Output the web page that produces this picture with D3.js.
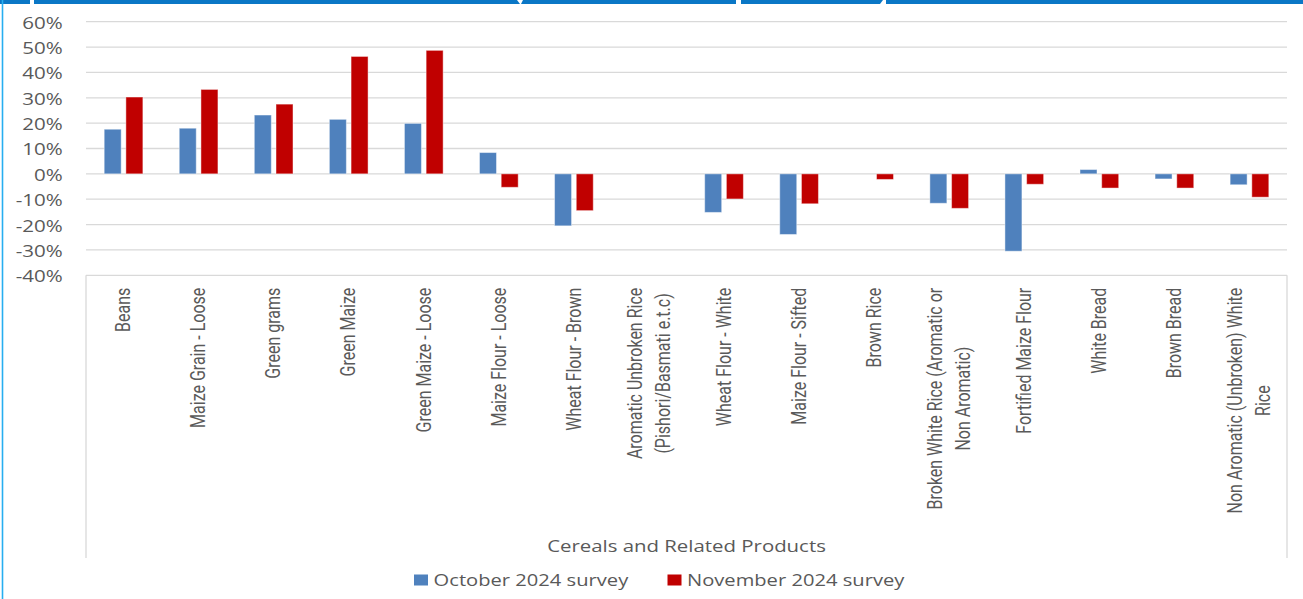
<!DOCTYPE html>
<html>
<head>
<meta charset="utf-8">
<script src="https://cdn.jsdelivr.net/npm/d3@7/dist/d3.min.js"></script>
<style>
  html, body { margin: 0; padding: 0; background: #ffffff; }
  svg { display: block; }
</style>
</head>
<body>
<svg id="chart" width="1303" height="599"></svg>
<script>
// Product categories (line breaks mark wrapped labels)
const categories = [
  "Beans",
  "Maize Grain - Loose",
  "Green grams",
  "Green Maize",
  "Green Maize - Loose",
  "Maize Flour - Loose",
  "Wheat Flour - Brown",
  "Aromatic Unbroken Rice\n(Pishori/Basmati e.t.c)",
  "Wheat Flour - White",
  "Maize Flour - Sifted",
  "Brown Rice",
  "Broken White Rice (Aromatic or\nNon Aromatic)",
  "Fortified Maize Flour",
  "White Bread",
  "Brown Bread",
  "Non Aromatic (Unbroken) White\nRice"
];

const seriesNames = ["October 2024 survey", "November 2024 survey"];

// Percentage change per product, October survey
const october = [17.6, 18.0, 23.2, 21.5, 19.9, 8.4, -20.5, null, -15.2, -23.9, null, -11.6, -30.5, 1.7, -2.0, -4.3];
// Percentage change per product, November survey
const november = [30.3, 33.3, 27.5, 46.3, 48.7, -5.3, -14.5, null, -9.9, -11.8, -2.2, -13.6, -4.1, -5.6, -5.6, -9.2];

const yTicks = [-40, -30, -20, -10, 0, 10, 20, 30, 40, 50, 60];
const axisTitle = "Cereals and Related Products";

const colors = { "October 2024 survey": "#4f81bd", "November 2024 survey": "#c00000" };

const svg = d3.select("#chart");
const textColor = "#595959";
const gridColor = "#d9d9d9";
const stretch = 1.3; // horizontal glyph stretch used for all chart text

const plotLeft = 86, plotRight = 1287, plotTop = 21.7, plotBottom = 275.3;

// ---- panel frame: top rule with tab breaks and the left edge ----
const frame = svg.append("g");
const topSegs = [[0, 30, 0, 0], [34, 517, 0, 3], [523, 736, -2, 0], [741, 883, 0, -3], [886, 1303, 0, 0]];
topSegs.forEach(([a, b, sa, sb]) => {
  frame.append("polygon")
    .attr("points", `${a},0 ${b},0 ${b + sb},4 ${a + sa},4`)
    .attr("fill", "#0a77c6");
});
frame.append("line")
  .attr("x1", 2.5).attr("x2", 2.5).attr("y1", 0).attr("y2", 599)
  .attr("stroke", "#27aef0").attr("stroke-width", 1.6);

// ---- scales ----
const x0 = d3.scaleBand().domain(categories).range([plotLeft, plotRight]).paddingInner(0).paddingOuter(0);
const x1 = d3.scaleBand().domain(seriesNames).range([-19.35, 19.35]).paddingInner(0.2166).paddingOuter(0);
const y = d3.scaleLinear().domain([-40, 60]).range([plotBottom, plotTop]);

// ---- gridlines ----
const grid = svg.append("g");
grid.selectAll("line.grid").data(yTicks).join("line")
  .attr("class", "grid")
  .attr("x1", plotLeft).attr("x2", plotRight)
  .attr("y1", d => y(d)).attr("y2", d => y(d))
  .attr("stroke", gridColor).attr("stroke-width", 1.3);

// category label box edges
[plotLeft, plotRight].forEach(xv => {
  grid.append("line")
    .attr("x1", xv).attr("x2", xv).attr("y1", plotBottom).attr("y2", 558)
    .attr("stroke", gridColor).attr("stroke-width", 1.3);
});

// ---- y axis tick labels ----
const yAxis = d3.axisLeft(y).tickValues(yTicks).tickFormat(d => d + "%").tickSize(0);
const yg = svg.append("g").attr("transform", "translate(62.7,0)").call(yAxis);
yg.select(".domain").remove();
yg.selectAll(".tick text")
  .attr("x", 0).attr("dy", null)
  .attr("dominant-baseline", "central")
  .attr("text-anchor", "end")
  .attr("transform", `scale(${stretch},1)`)
  .attr("fill", textColor)
  .style("font-family", "'Open Sans', sans-serif")
  .style("font-size", "15.8px");

// ---- bars ----
const rows = categories.map((c, i) => ({ cat: c, values: [
  { key: seriesNames[0], value: october[i] },
  { key: seriesNames[1], value: november[i] }
]}));

const groups = svg.append("g").selectAll("g.cat").data(rows).join("g")
  .attr("class", "cat")
  .attr("transform", d => `translate(${x0(d.cat) + x0.bandwidth() / 2},0)`);

groups.selectAll("rect").data(d => d.values.filter(v => v.value !== null)).join("rect")
  .attr("x", d => x1(d.key))
  .attr("width", x1.bandwidth())
  .attr("y", d => y(Math.max(0, d.value)))
  .attr("height", d => Math.abs(y(d.value) - y(0)))
  .attr("fill", d => colors[d.key])
  .attr("stroke", "#ffffff").attr("stroke-opacity", 0.45).attr("stroke-width", 1);

// ---- category labels (rotated, wrapped lines centred on each other) ----
const labelTop = 287.7;
const lineStep = 21.3;
const labels = svg.append("g");
categories.forEach(c => {
  const lines = c.split("\n");
  const g = labels.append("g");
  const t = g.append("text")
    .attr("text-anchor", "middle")
    .attr("fill", "#5a5a5a")
    .style("font-family", "Roboto, sans-serif")
    .style("font-size", "16px");
  lines.forEach((ln, i) => {
    t.append("tspan")
      .attr("x", 0)
      .attr("y", (i - (lines.length - 1) / 2) * lineStep)
      .attr("dominant-baseline", "central")
      .text(ln);
  });
  let maxLen = 0;
  t.selectAll("tspan").each(function () { maxLen = Math.max(maxLen, this.getComputedTextLength()); });
  const cx = x0(c) + x0.bandwidth() / 2;
  g.attr("transform", `translate(${cx},${labelTop + maxLen / 2}) scale(${stretch},1) rotate(-90)`);
});

// ---- axis title ----
svg.append("text")
  .attr("transform", `translate(${(plotLeft + plotRight) / 2},551.5) scale(${stretch},1)`)
  .attr("text-anchor", "middle")
  .attr("fill", textColor)
  .style("font-family", "'Open Sans', sans-serif")
  .style("font-size", "15.7px")
  .text(axisTitle);

// ---- legend ----
const legendItems = [
  { key: seriesNames[0], sx: 414, tx: 433.6 },
  { key: seriesNames[1], sx: 667.5, tx: 687 }
];
const legend = svg.append("g");
legendItems.forEach(it => {
  legend.append("rect")
    .attr("x", it.sx).attr("y", 574.5).attr("width", 14).attr("height", 11)
    .attr("fill", colors[it.key]);
  legend.append("text")
    .attr("transform", `translate(${it.tx},580) scale(${stretch},1)`)
    .attr("dominant-baseline", "central")
    .attr("fill", textColor)
    .style("font-family", "'Open Sans', sans-serif")
    .style("font-size", "15.5px")
    .text(it.key);
});
</script>
</body>
</html>
